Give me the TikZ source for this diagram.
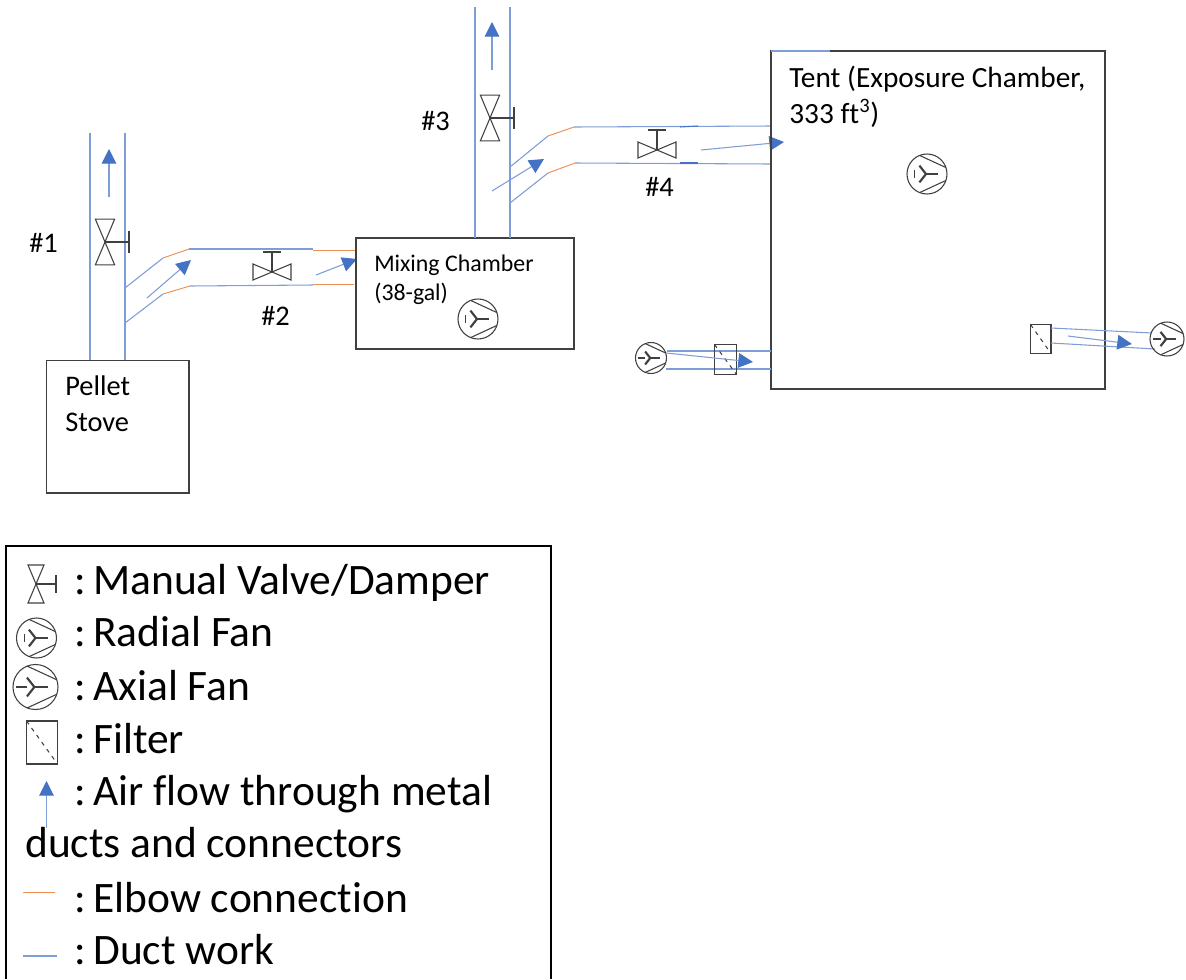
\documentclass[tikz,border=0pt]{standalone}
\usepackage{fontspec}
\setmainfont[Ligatures=NoCommon]{Carlito}
\usetikzlibrary{arrows.meta}
\definecolor{ductblue}{HTML}{7F9DD6}
\definecolor{flowblue}{HTML}{4472C4}
\definecolor{elbowred}{HTML}{EE8E4F}
\definecolor{boxgray}{HTML}{404040}
\newcommand{\fanbody}{
  \draw [box] (0,0) circle (1);
  \draw [box] (-0.37,-0.93) -- (0.95,-0.32);
  \draw [box] (-0.37,0.93) -- (0.95,0.32);
  \draw [boxgray, line width=1.6pt] (-0.38,-0.42) -- (-0.05,0) -- (-0.38,0.42);
  \draw [boxgray, line width=1.6pt] (-0.05,0) -- (0.55,0);
}
\newcommand{\keycolon}{:\kern-1.8pt\ }
\tikzset{
  duct/.style={ductblue, line width=0.8pt},
  elbow/.style={elbowred, line width=0.7pt},
  flow/.style={ductblue, line width=0.8pt, -{Triangle[length=11pt,width=11pt,color=flowblue]}},
  box/.style={boxgray, line width=0.8pt},
  tag/.style={anchor=base west, inner sep=0pt, font=\fontsize{21.3}{24}\selectfont},
  tenttag/.style={anchor=base west, inner sep=0pt, font=\fontsize{22}{24}\selectfont},
  label/.style={anchor=base west, inner sep=0pt, font=\fontsize{17.9}{20}\selectfont},
  legend/.style={anchor=base west, inner sep=0pt, font=\fontsize{32.6}{36}\selectfont},
  pics/valve/.style={code={
    \draw [box] (0,0) -- (-19,-8) -- (-19,8) -- cycle;
    \draw [box] (0,0) -- (19,-8) -- (19,8) -- cycle;
    \draw [box] (0,0) -- (0,-20);
    \draw [box] (-9,-20) -- (9,-20);
  }},
  pics/radialfan/.style={code={
    \fanbody
    \draw [box] (-0.62,-0.2) -- (-0.62,0.2);
  }},
  pics/axialfan/.style={code={
    \fanbody
    \draw [box] (-0.85,0) -- (-0.38,0);
  }},
  pics/filter/.style={code={
    \draw [boxgray, line width=1.1pt] (0,0) rectangle (1,1);
    \draw [boxgray, line width=0.8pt, dash pattern=on 3pt off 3.5pt] (0,0) -- (1,1);
  }},
}
\begin{document}
\begin{tikzpicture}[x=0.75pt,y=-0.75pt]
\useasboundingbox (0,0) rectangle (1186,979);

% stove and first branch
\draw [box] (46.5,360.5) rectangle (189,493);
\node (stoveA) [tag] at (65,395) {Pellet};
\node (stoveB) [tag] at (65,431) {Stove};
\draw [duct] (90,133) -- (90,360);
\draw [duct] (125,133) -- (125,360);
\draw [flow] (109,197) -- (109,149);
\pic (valveA) [rotate=-90,scale=1.2] at (105,242) {valve};
\node (numA) [tag] at (29,252) {\#1};
\draw [duct] (125,288) -- (163,258);
\draw [elbow] (163,258) -- (189,249);
\draw [duct] (189,249) -- (313,249);
\draw [elbow] (313,250) -- (356,250);
\draw [duct] (125,323) -- (163,294);
\draw [elbow] (163,294) -- (190,286);
\draw [duct] (190,286) -- (313,285);
\draw [elbow] (313,284.5) -- (354,284.5);
\draw [flow] (147,298) -- (191,260);
\draw [flow] (316,275) -- (357,259);
\pic (valveB) at (272,272) {valve};
\node (numB) [tag] at (261,325) {\#2};

% mixing chamber
\draw [box] (356,238) rectangle (574,349);
\node (mixA) [label] at (374,271) {Mixing Chamber};
\node (mixB) [label] at (374,300) {(38-gal)};
\pic (mixfan) [scale=20] at (478,319) {radialfan};

% second branch
\draw [duct] (475,7) -- (475,238);
\draw [duct] (510,7) -- (510,238);
\draw [flow] (492,70) -- (492,22);
\pic (valveC) [rotate=-90,scale=1.2] at (490,118) {valve};
\node (numC) [tag] at (421,130) {\#3};
\draw [duct] (510,167) -- (548,136);
\draw [elbow] (548,136) -- (574,127);
\draw [duct] (574,127) -- (771,126);
\draw [duct] (510,203) -- (548,173);
\draw [elbow] (548,173) -- (575,163);
\draw [duct] (575,163) -- (771,164);
\draw [flowblue, line width=0.8pt] (680,127) -- (698,126);
\draw [flowblue, line width=0.8pt] (680,163) -- (698,163);
\draw [flow] (492,191) -- (544,159);
\draw [flow] (701,150) -- (784,142);
\pic (valveD) at (657,150) {valve};
\node (numD) [tag] at (645,196) {\#4};

% tent
\draw [box] (771,51) rectangle (1105,389);
\draw [duct] (771,51) -- (830,51);
\node (tentA) [tenttag] at (789,87) {Tent (Exposure Chamber,};
\node (tentB) [tenttag] at (789,123) {333 ft\textsuperscript{3})};
\pic (tentfan) [scale=20] at (927,174) {radialfan};

% inlet
\pic (inletfan) [scale=15.5] at (651,358) {axialfan};
\draw [duct] (667,351) -- (771,351);
\draw [duct] (666,369) -- (771,369);
\pic (inletfilter) [xscale=22,yscale=30] at (714.5,344.5) {filter};
\draw [flow] (666,353) -- (753,362);

% outlet
\pic (outletfilter) [xscale=20.5,yscale=29] at (1030.5,324.5) {filter};
\draw [duct] (1051,328) -- (1152,333);
\draw [duct] (1051,343) -- (1155,349);
\draw [flow] (1068,336) -- (1132,344);
\pic (outletfan) [scale=17] at (1167,339) {axialfan};

% legend
\draw [black, line width=0.8pt] (6,979) -- (6,546) -- (551,546) -- (551,979);
\pic (keyvalve) [rotate=-90] at (36,584) {valve};
\node (keyA) [legend] at (74,594) {\keycolon Manual Valve/Damper};
\pic (keyradial) [scale=20] at (36.5,638) {radialfan};
\node (keyB) [legend] at (74,646) {\keycolon Radial Fan};
\pic (keyaxial) [scale=22.5] at (35.5,687) {axialfan};
\node (keyC) [legend] at (74,700) {\keycolon Axial Fan};
\pic (keyfilter) [xscale=31,yscale=43] at (26.5,721) {filter};
\node (keyD) [legend] at (74,753) {\keycolon Filter};
\draw [flow] (46.5,828) -- (46.5,781);
\node (keyE) [legend] at (74,805) {\keycolon Air flow through metal};
\node (keyF) [legend] at (25,857) {ducts and connectors};
\draw [elbow] (23,892) -- (55,892);
\node (keyG) [legend] at (74,912) {\keycolon Elbow connection};
\draw [duct] (23,956) -- (57,956);
\node (keyH) [legend] at (74,964) {\keycolon Duct work};
\end{tikzpicture}
\end{document}
